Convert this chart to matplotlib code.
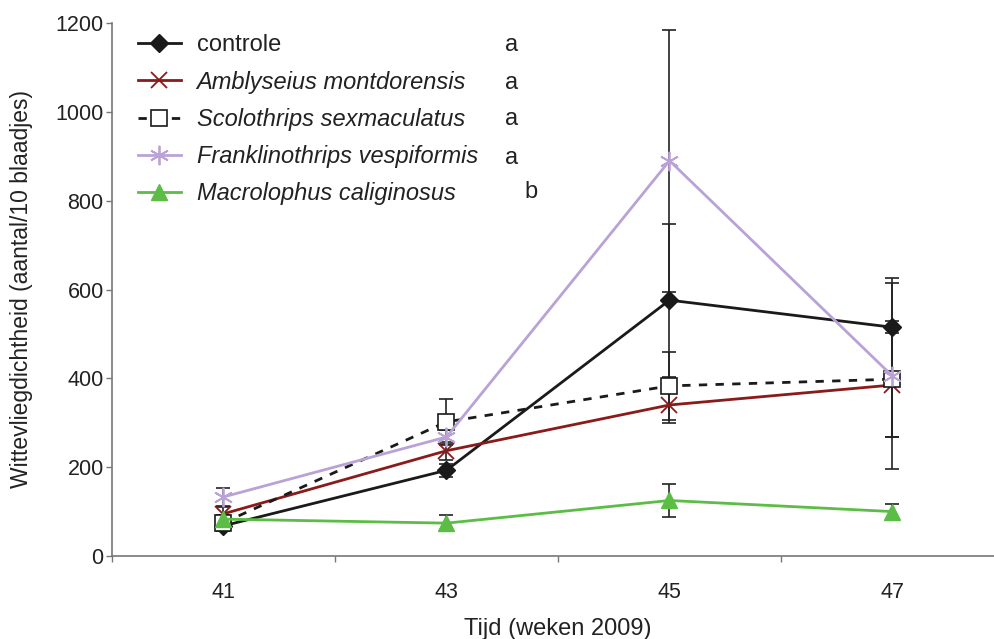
import numpy as np
import matplotlib
matplotlib.use("Agg")
import matplotlib.pyplot as plt

plt.rcParams['font.family'] = ['Liberation Sans', 'DejaVu Sans']

weeks = ['41', '43', '45', '47']
series = ['controle', 'Amblyseius montdorensis', 'Scolothrips sexmaculatus',
          'Franklinothrips vespiformis', 'Macrolophus caliginosus']
groups = ['a', 'a', 'a', 'a', 'b']

controle = [68, 193, 576, 515]
amblyseius = [95, 237, 340, 385]
scolothrips = [75, 302, 383, 398]
franklinothrips = [133, 268, 890, 405]
macrolophus = [83, 74, 125, 100]

err_controle = [12, 15, 172, 112]
err_amblyseius = [15, 20, 40, 118]
err_scolothrips = [12, 52, 77, 130]
err_franklinothrips = [20, 15, 295, 210]
err_macrolophus = [10, 18, 38, 18]

values = [controle, amblyseius, scolothrips, franklinothrips, macrolophus]
errors = [err_controle, err_amblyseius, err_scolothrips, err_franklinothrips, err_macrolophus]

styles = [
    dict(color='#1a1a1a', marker='D', ms=9, mfc='#1a1a1a', mec='#1a1a1a', ls='-'),
    dict(color='#8b1a1a', marker='x', ms=11, mew=1.3, ls='-'),
    dict(color='#1a1a1a', marker='s', ms=12, mfc='white', mec='#1a1a1a', mew=1.2, ls=(0, (3, 3))),
    dict(color='#b9a3d6', marker=(6, 2, 0), ms=14, mew=1.3, ls='-'),
    dict(color='#5bbd45', marker='^', ms=12, mfc='#5bbd45', mec='#5bbd45', ls='-'),
]

fig = plt.figure(figsize=(9.95, 6.39), dpi=100)
ax = fig.add_axes([112 / 995, 1 - 556 / 639, 892 / 995, 533 / 639])

x = np.arange(len(weeks))
for vals, errs in zip(values, errors):
    ax.errorbar(x, vals, yerr=errs, fmt='none', ecolor='#222222', elinewidth=1.2,
                capsize=5, capthick=1.2, zorder=2)

handles = []
for name, vals, st in zip(series, values, styles):
    h, = ax.plot(x, vals, lw=2, label=name, zorder=3, **st)
    handles.append(h)

ax.set_xlim(-0.5, 3.5)
ax.set_ylim(0, 1200)
ax.set_yticks(range(0, 1201, 200))
ax.set_xticks(x)
ax.set_xticklabels(weeks)
ax.set_xticks(np.arange(-0.5, 3.6, 1), minor=True)
ax.tick_params(axis='x', which='major', length=0, pad=18.5, labelsize=15.5, labelcolor='#222222')
ax.tick_params(axis='x', which='minor', length=4.5, direction='out', width=1, color='#777777')
ax.tick_params(axis='y', length=4.5, direction='out', width=1, color='#777777',
               labelsize=15.5, labelcolor='#222222', pad=1.5)
ax.spines['top'].set_visible(False)
ax.spines['right'].set_visible(False)
for s in ('left', 'bottom'):
    ax.spines[s].set_linewidth(1.2)
    ax.spines[s].set_color('#777777')

ax.set_xlabel('Tijd (weken 2009)', fontsize=17, labelpad=11, color='#222222')
ax.set_ylabel('Wittevliegdichtheid (aantal/10 blaadjes)', fontsize=16.5, color='#222222')
ax.yaxis.set_label_coords(-0.0885, 0.5)

fs = 17
fpx = fs * 100 / 72
leg = ax.legend(handles=handles, loc='upper left',
                bbox_to_anchor=((138 - 0.4 * fpx) / 995, 1 - 25 / 639),
                bbox_transform=fig.transFigure,
                frameon=False, fontsize=fs, handlelength=1.8, handletextpad=0.68,
                labelspacing=0.6, borderaxespad=0, borderpad=0.4)
for i, t in enumerate(leg.get_texts()):
    t.set_color('#222222')
    if i > 0:
        t.set_fontstyle('italic')

# significance letters
letter_y = [1150, 1065, 984, 896, 820]
letter_x = [1.29, 1.29, 1.29, 1.29, 1.38]
for lx, ly, g in zip(letter_x, letter_y, groups):
    ax.text(lx, ly, g, fontsize=fs, ha='center', va='center', color='#222222')

fig.savefig('out.png', dpi=100)
